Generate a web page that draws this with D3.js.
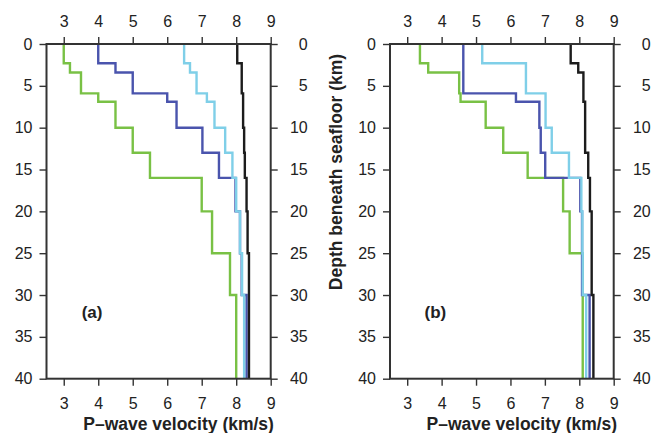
<!DOCTYPE html>
<html>
<head>
<meta charset="utf-8">
<script src="https://cdn.jsdelivr.net/npm/d3@7"></script>
<style>
  body { margin: 0; background: #fff; }
  svg text { font-family: "Liberation Sans", Arial, Helvetica, sans-serif; fill: #222; }
</style>
</head>
<body>
<div id="chart"></div>
<script>
// layer tops (km) shared by every profile; last value is the model bottom
var layerDepths = [0, 2.3, 3.4, 5.9, 6.9, 10, 13, 16, 20, 25, 30, 40];

// panel (a) velocities (km/s), one per layer
var aGreen = [3.0, 3.18, 3.5, 4.0, 4.5, 5.0, 5.5, 7.0, 7.3, 7.82, 8.0];
var aBlue  = [4.0, 4.5, 5.0, 6.0, 6.27, 7.02, 7.5, 7.98, 8.11, 8.16, 8.3];
var aCyan  = [6.49, 6.66, 6.85, 7.15, 7.37, 7.68, 7.89, 8.0, 8.11, 8.17, 8.23];
var aBlack = [8.03, 8.16, 8.16, 8.2, 8.2, 8.23, 8.25, 8.3, 8.33, 8.37, 8.37];

// panel (b)
var bGreen = [3.37, 3.61, 4.51, 4.55, 5.28, 5.79, 6.5, 7.53, 7.72, 8.1, 8.1];
var bBlue  = [4.63, 4.63, 4.63, 6.16, 6.84, 6.88, 7.01, 8.03, 8.08, 8.08, 8.3];
var bCyan  = [5.18, 6.45, 6.45, 7.02, 7.02, 7.2, 7.7, 8.06, 8.09, 8.1, 8.2];
var bBlack = [7.75, 7.97, 8.12, 8.12, 8.17, 8.17, 8.26, 8.31, 8.36, 8.36, 8.41];

var xTicks = [3, 4, 5, 6, 7, 8, 9];
var yTicks = [0, 5, 10, 15, 20, 25, 30, 35, 40];

var colors = { green: "#79c145", blue: "#4a54ad", cyan: "#7fcfe8", black: "#1c1c1c" };

var W = 655, H = 433;
var plotTop = 44, plotBottom = 378.7;
var panels = [
  { left: 46.5, right: 270.7, label: "(a)", series: [aGreen, aBlue, aCyan, aBlack], yTitle: false },
  { left: 390, right: 613.7, label: "(b)", series: [bGreen, bBlue, bCyan, bBlack], yTitle: true }
];
var order = ["green", "blue", "cyan", "black"];

var svg = d3.select("#chart").append("svg")
  .attr("width", W).attr("height", H);

var y = d3.scaleLinear().domain([0, 40]).range([plotTop, plotBottom]);

function profile(vals) {
  var pts = [];
  for (var i = 0; i < vals.length; i++) {
    pts.push([vals[i], layerDepths[i]]);
    pts.push([vals[i], layerDepths[i + 1]]);
  }
  return pts;
}

function styleAxis(g) {
  g.select(".domain").remove();
  g.selectAll(".tick line").attr("stroke", "#333").attr("stroke-width", 1.4);
  g.selectAll(".tick text").style("font-size", "16px").attr("fill", "#222");
}

panels.forEach(function(p) {
  var x = d3.scaleLinear().domain([2.5, 9]).range([p.left, p.right]);
  var line = d3.line()
    .x(function(d) { return x(d[0]); })
    .y(function(d) { return y(d[1]); });

  // profiles
  p.series.forEach(function(vals, i) {
    svg.append("path")
      .datum(profile(vals))
      .attr("fill", "none")
      .attr("stroke", colors[order[i]])
      .attr("stroke-width", 2.4)
      .attr("d", line);
  });

  // frame
  svg.append("rect")
    .attr("x", x(2.5)).attr("y", y(0))
    .attr("width", x(9) - x(2.5)).attr("height", y(40) - y(0))
    .attr("fill", "none").attr("stroke", "#333").attr("stroke-width", 2);

  // axes
  svg.append("g").attr("transform", "translate(0," + y(0) + ")")
    .call(d3.axisTop(x).tickValues(xTicks).tickFormat(d3.format("d")).tickSize(7).tickPadding(10))
    .call(styleAxis);
  svg.append("g").attr("transform", "translate(0," + y(40) + ")")
    .call(d3.axisBottom(x).tickValues(xTicks).tickFormat(d3.format("d")).tickSize(7).tickPadding(12))
    .call(styleAxis);
  svg.append("g").attr("transform", "translate(" + x(2.5) + ",0)")
    .call(d3.axisLeft(y).tickValues(yTicks).tickSize(7).tickPadding(7))
    .call(styleAxis);
  var ra = svg.append("g").attr("transform", "translate(" + x(9) + ",0)")
    .call(d3.axisRight(y).tickValues(yTicks).tickSize(7).tickPadding(7))
    .call(styleAxis);
  ra.selectAll(".tick text").attr("text-anchor", "end").attr("x", 37);

  // panel letter
  svg.append("text")
    .attr("x", x(3.82)).attr("y", y(32.7))
    .attr("text-anchor", "middle")
    .style("font-size", "17px").style("font-weight", "bold")
    .text(p.label);

  // x title
  svg.append("text")
    .attr("x", (p.left + p.right) / 2 + 20).attr("y", 430)
    .attr("text-anchor", "middle")
    .style("font-size", "17.5px").style("font-weight", "bold")
    .text("P\u2013wave velocity (km/s)");

  if (p.yTitle) {
    svg.append("text")
      .attr("transform", "translate(" + 342 + "," + 172 + ")rotate(-90)")
      .attr("text-anchor", "middle")
      .style("font-size", "17.5px").style("font-weight", "bold")
      .text("Depth beneath seafloor (km)");
  }
});
</script>
</body>
</html>
